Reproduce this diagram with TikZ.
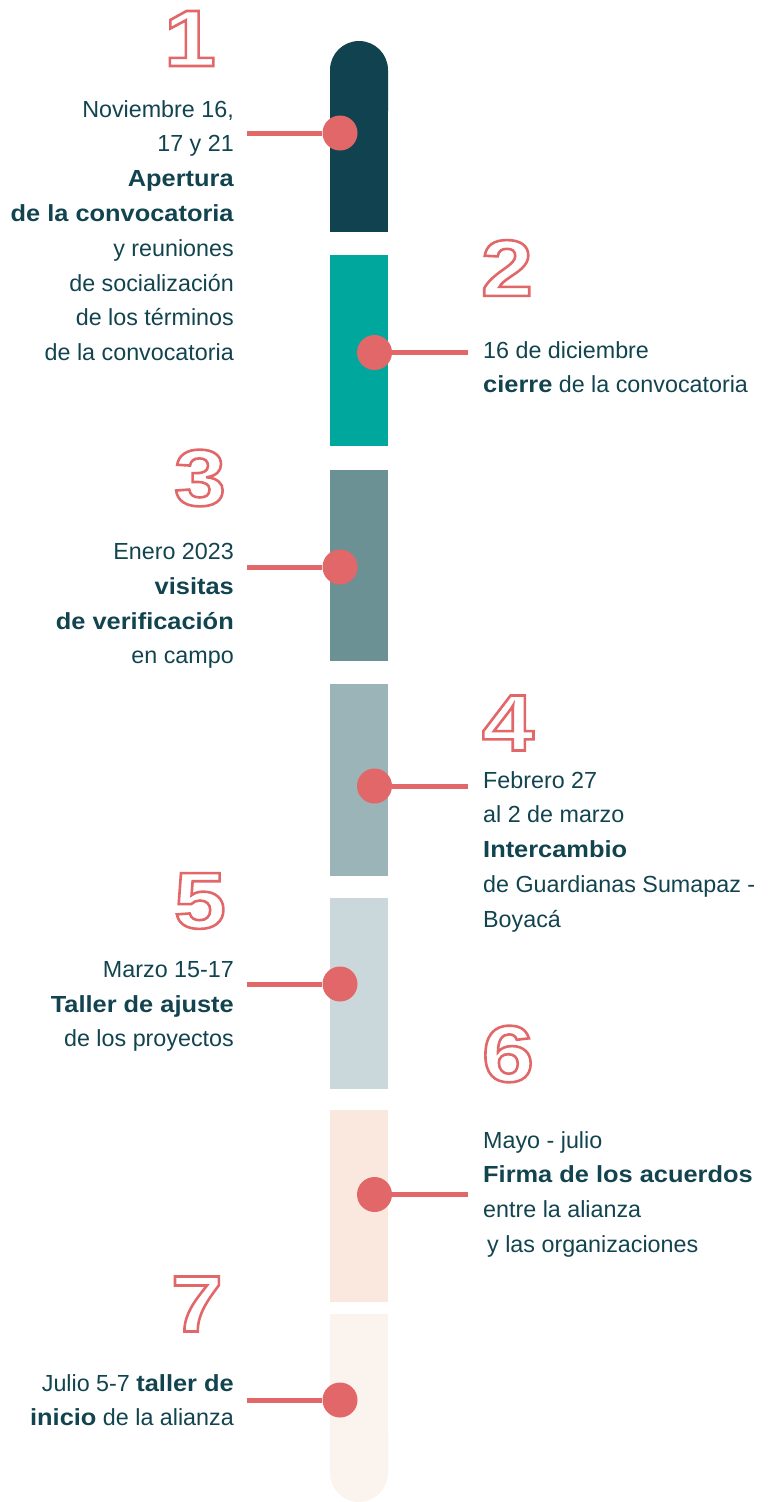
\documentclass[tikz,border=0pt]{standalone}
\usepackage{fontspec}
\setmainfont{Liberation Sans}[BoldFeatures={FakeStretch=1.09}]
\newfontfamily\numfont{Liberation Sans}[FakeStretch=1.17]
\definecolor{ink}{HTML}{12444F}
\definecolor{coral}{HTML}{E26769}
\definecolor{cA}{HTML}{10434F}
\definecolor{cB}{HTML}{00A79D}
\definecolor{cC}{HTML}{6B9195}
\definecolor{cD}{HTML}{9AB4B8}
\definecolor{cE}{HTML}{CAD8DC}
\definecolor{cF}{HTML}{FAE8DF}
\definecolor{cG}{HTML}{FBF3EE}
\newcommand\outlined[1]{\special{pdf:literal 1 Tr 2.6 w}#1\special{pdf:literal 0 Tr 0.4 w}}
\tikzset{
  dot/.style={circle, fill=coral, minimum size=35pt, inner sep=0pt},
  conn/.style={draw=coral, line width=5pt},
  txtbase/.style={inner sep=0pt, text=ink, font=\fontsize{23.3}{34.8}\selectfont},
  rtext/.style={txtbase, anchor=north east, align=right},
  ltext/.style={txtbase, anchor=north west, align=left},
  numtxt/.style={inner sep=0pt, text=coral, font=\numfont\bfseries\fontsize{80}{80}\selectfont},
}
\begin{document}
\begin{tikzpicture}[x=1pt, y=-1pt]
\useasboundingbox (0,0) rectangle (777,1502);
% bars
\fill[cA, rounded corners=29pt] (330,41) rectangle (388,140);
\fill[cA] (330,80) rectangle (388,232);
\fill[cB] (330,255) rectangle (388,446);
\fill[cC] (330,470) rectangle (388,661);
\fill[cD] (330,684) rectangle (388,876);
\fill[cE] (330,898) rectangle (388,1089);
\fill[cF] (330,1110) rectangle (388,1302);
\fill[cG] (330,1314) rectangle (388,1440);
\fill[cG, rounded corners=29pt] (330,1400) rectangle (388,1502);
% dots
\node[dot] (d1) at (340,133) {};
\node[dot] (d2) at (374.5,352.5) {};
\node[dot] (d3) at (340,567) {};
\node[dot] (d4) at (374.5,786) {};
\node[dot] (d5) at (340,984) {};
\node[dot] (d6) at (374.5,1194.5) {};
\node[dot] (d7) at (340,1400) {};
\coordinate (e1) at (247,133);
\coordinate (e2) at (468,352.5);
\coordinate (e3) at (247,567);
\coordinate (e4) at (468,786);
\coordinate (e5) at (247,984);
\coordinate (e6) at (468,1194.5);
\coordinate (e7) at (247,1400);
\draw[conn] (e1) -- (d1);
\draw[conn] (e2) -- (d2);
\draw[conn] (e3) -- (d3);
\draw[conn] (e4) -- (d4);
\draw[conn] (e5) -- (d5);
\draw[conn] (e6) -- (d6);
\draw[conn] (e7) -- (d7);
% texts
\node[rtext] (t1) at (234,100) {Noviembre 16,\\17 y 21\\\textbf{Apertura}\\\textbf{de la convocatoria}\\y reuniones\\de socialización\\de los términos\\de la convocatoria};
\node[ltext] (t2) at (483,341) {16 de diciembre\\\textbf{cierre} de la convocatoria};
\node[rtext] (t3) at (234,543) {Enero 2023\\\textbf{visitas}\\\textbf{de verificación}\\en campo};
\node[ltext] (t4) at (483,771) {Febrero 27\\al 2 de marzo\\\textbf{Intercambio}\\de Guardianas Sumapaz -\\Boyacá};
\node[rtext] (t5) at (234,961) {Marzo 15-17\\\textbf{Taller de ajuste}\\de los proyectos};
\node[ltext] (t6) at (483,1131) {Mayo - julio\\\textbf{Firma de los acuerdos}\\entre la alianza\\\hspace*{4pt}y las organizaciones};
\node[rtext] (t7) at (234,1374) {Julio 5-7 \textbf{taller de}\\\textbf{inicio} de la alianza};
% numbers
\node[numtxt] (n1) at (190,38.5) {\outlined{1}};
\node[numtxt] (n2) at (507,268) {\outlined{2}};
\node[numtxt] (n3) at (200,478) {\outlined{3}};
\node[numtxt] (n4) at (508,723) {\outlined{4}};
\node[numtxt] (n5) at (200,901) {\outlined{5}};
\node[numtxt] (n6) at (508,1054) {\outlined{6}};
\node[numtxt] (n7) at (197,1304) {\outlined{7}};
\end{tikzpicture}
\end{document}
